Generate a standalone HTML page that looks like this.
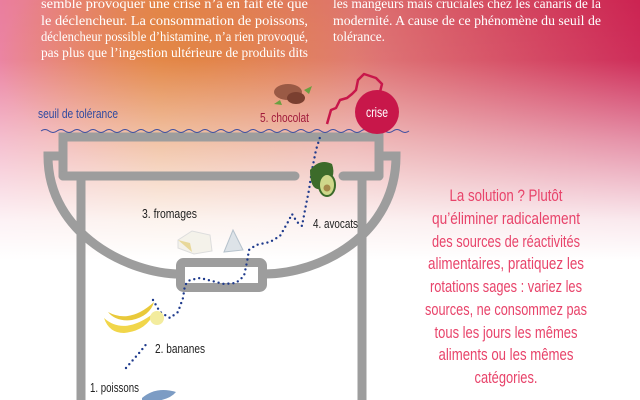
<!DOCTYPE html>
<html><head><meta charset="utf-8"><style>
html,body{margin:0;padding:0;width:640px;height:400px;overflow:hidden;background:#fff}
svg{display:block}
.t{font-family:"Liberation Serif",serif;font-size:13.5px;fill:#fff}
.c{font-family:"Liberation Sans Narrow","Liberation Sans",sans-serif}
</style></head><body>
<svg width="640" height="400" viewBox="0 0 640 400" xmlns="http://www.w3.org/2000/svg">
<defs>
<linearGradient id="v" x1="0" y1="0" x2="0" y2="1">
<stop offset="0" stop-color="#fff" stop-opacity="0"/>
<stop offset="0.15" stop-color="#fff" stop-opacity="0.05"/>
<stop offset="0.35" stop-color="#fff" stop-opacity="0.5"/>
<stop offset="0.55" stop-color="#fff" stop-opacity="0.9"/>
<stop offset="0.65" stop-color="#fff" stop-opacity="1"/>
</linearGradient>
<linearGradient id="h" x1="0" y1="0" x2="1" y2="0">
<stop offset="0" stop-color="#ea7e9e"/>
<stop offset="0.25" stop-color="#e48a52"/>
<stop offset="0.55" stop-color="#de7470"/>
<stop offset="1" stop-color="#cc2352"/>
</linearGradient>
<radialGradient id="o" cx="0.3" cy="0.15" r="0.3">
<stop offset="0" stop-color="#e07a2c" stop-opacity="0.6"/>
<stop offset="1" stop-color="#e07a2c" stop-opacity="0"/>
</radialGradient>
</defs>
<rect width="640" height="400" fill="url(#h)"/>
<rect width="640" height="400" fill="url(#o)"/>
<rect width="640" height="400" fill="url(#v)"/>

<!-- top text -->
<g lengthAdjust="spacingAndGlyphs">
<text class="t" x="41" y="8" textLength="267" lengthAdjust="spacingAndGlyphs">semble provoquer une crise n’a en fait été que</text>
<text class="t" x="41" y="25" textLength="267" lengthAdjust="spacingAndGlyphs">le déclencheur. La consommation de poissons,</text>
<text class="t" x="41" y="41" textLength="267" lengthAdjust="spacingAndGlyphs">déclencheur possible d’histamine, n’a rien provoqué,</text>
<text class="t" x="41" y="57" textLength="267" lengthAdjust="spacingAndGlyphs">pas plus que l’ingestion ultérieure de produits dits</text>
<text class="t" x="333" y="8" textLength="268" lengthAdjust="spacingAndGlyphs">les mangeurs mais cruciales chez les canaris de la</text>
<text class="t" x="333" y="25" textLength="268" lengthAdjust="spacingAndGlyphs">modernité. A cause de ce phénomène du seuil de</text>
<text class="t" x="333" y="41" textLength="52" lengthAdjust="spacingAndGlyphs">tolérance.</text>
</g>

<!-- bucket -->
<g fill="none" stroke="#9d9d9d" stroke-width="9" stroke-linecap="round">
<path d="M60 156 H48 C48 235 130 274 180 274 M264 274 C320 274 396 235 396 156 H382"/>
<rect x="180.5" y="262.5" width="82" height="25" rx="3" fill="#fff"/>
<path d="M63 176 V137 H379 V176"/>
<path d="M63 176 H295 M343 176 H379"/>
<path d="M81 180 V402 M362 180 V402" stroke-linecap="butt"/>
</g>

<!-- wave -->
<path d="M41 131 q4 -3 8 0 t8 0 t8 0 t8 0 t8 0 t8 0 t8 0 t8 0 t8 0 t8 0 t8 0 t8 0 t8 0 t8 0 t8 0 t8 0 t8 0 t8 0 t8 0 t8 0 t8 0 t8 0 t8 0 t8 0 t8 0 t8 0 t8 0 t8 0 t8 0 t8 0 t8 0 t8 0 t8 0 t8 0 t8 0 t8 0 t8 0 t8 0 t8 0 t8 0 t8 0 t8 0 t8 0 t8 0 t8 0 t8 0" fill="none" stroke="#3b4da0" stroke-width="1"/>

<!-- red crisis line -->
<path d="M327 124 L331 110 L336 108 L340 100 L347 98 L352 94 L356 90 L358 80 L364 74 L370 76 L376 78 L382 84 L380 92" fill="none" stroke="#c8174a" stroke-width="2.5" stroke-linejoin="round"/>
<circle cx="377" cy="112" r="22" fill="#c8174a"/>
<text x="377" y="117" text-anchor="middle" class="c" font-size="14" fill="#fff" textLength="22" lengthAdjust="spacingAndGlyphs">crise</text>

<!-- dotted path -->
<path d="M126 368 L133 360 L140 352 L148 342 M153 300 L160 312 L170 318 L178 312 L183 298 L185 285 L190 280 L200 278 L212 281 L224 284 L236 283 L244 276 L247 262 L249 250 L256 245 L270 242 L280 236 L288 222 L292 214 L297 222 L302 226 L305 210 L309 190 L312 170 L316 150 L321 134" fill="none" stroke="#1e3a8c" stroke-width="2.4" stroke-dasharray="0 5" stroke-linecap="round"/>

<!-- foods -->
<g>
<ellipse cx="288" cy="92" rx="14" ry="8" fill="#9a5a45"/>
<ellipse cx="296" cy="98" rx="9" ry="6" fill="#7a3f30"/>
<path d="M280 100 l-6 4 l8 1z M304 90 l8 -4 l-3 8z" fill="#6aa040"/>
<path d="M310 170 q10 -12 22 -6 q5 14 -8 24 q-14 6 -14 -18z" fill="#3c6b2a"/>
<ellipse cx="327" cy="185" rx="8" ry="11" fill="#cfd88a" stroke="#3c6b2a" stroke-width="2"/>
<circle cx="327" cy="188" r="3.5" fill="#a58a4a"/>
<path d="M178 240 l14 -9 l18 4 l2 16 l-18 3 l-16 -6z" fill="#f4f2ea" stroke="#ddd" stroke-width="1"/>
<path d="M178 240 l12 3 l2 9" fill="#e8d89a"/>
<path d="M224 252 l9 -22 l10 20z" fill="#dde3e8" stroke="#b6c2cc" stroke-width="1"/>
<path d="M104 318 q20 18 50 -5 q-8 18 -30 20 q-15 0 -20 -15z" fill="#f1d64a"/>
<path d="M108 312 q22 12 46 -10 q-4 14 -22 18 q-16 2 -24 -8z" fill="#e9c93a"/>
<circle cx="157" cy="318" r="7" fill="#f3ec9e"/>
<path d="M142 398 q14 -12 34 -6 q-8 10 -34 10z" fill="#7c9cc4"/>
</g>

<!-- labels -->
<text x="38" y="118" class="c" font-size="13" fill="#2f4aa0" textLength="80" lengthAdjust="spacingAndGlyphs">seuil de tolérance</text>
<text x="260" y="122" class="c" font-size="13" fill="#a01a3a" textLength="49" lengthAdjust="spacingAndGlyphs">5. chocolat</text>
<g class="c" font-size="13" fill="#222">
<text x="142" y="218" textLength="55" lengthAdjust="spacingAndGlyphs">3. fromages</text>
<text x="313" y="228" textLength="45" lengthAdjust="spacingAndGlyphs">4. avocats</text>
<text x="155" y="353" textLength="50" lengthAdjust="spacingAndGlyphs">2. bananes</text>
<text x="90" y="392" textLength="49" lengthAdjust="spacingAndGlyphs">1. poissons</text>
</g>

<!-- solution text -->
<g class="c" font-size="17" fill="#e8436a" text-anchor="middle">
<text x="506" y="201" textLength="113" lengthAdjust="spacingAndGlyphs">La solution ? Plutôt</text>
<text x="506" y="224" textLength="148" lengthAdjust="spacingAndGlyphs">qu’éliminer radicalement</text>
<text x="506" y="247" textLength="148" lengthAdjust="spacingAndGlyphs">des sources de réactivités</text>
<text x="506" y="269" textLength="156" lengthAdjust="spacingAndGlyphs">alimentaires, pratiquez les</text>
<text x="506" y="292" textLength="152" lengthAdjust="spacingAndGlyphs">rotations sages : variez les</text>
<text x="506" y="315" textLength="162" lengthAdjust="spacingAndGlyphs">sources, ne consommez pas</text>
<text x="506" y="338" textLength="143" lengthAdjust="spacingAndGlyphs">tous les jours les mêmes</text>
<text x="506" y="360" textLength="135" lengthAdjust="spacingAndGlyphs">aliments ou les mêmes</text>
<text x="506" y="383" textLength="63" lengthAdjust="spacingAndGlyphs">catégories.</text>
</g>
</svg>
</body></html>
